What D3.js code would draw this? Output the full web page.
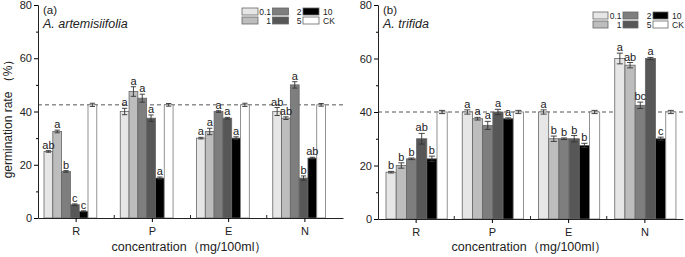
<!DOCTYPE html>
<html>
<head>
<meta charset="utf-8">
<title>germination</title>
<style>
  body { margin: 0; background: #fff; }
  svg { font-family: "Liberation Sans", Arial, sans-serif; }
</style>
</head>
<body>
<div id="chart"></div>
<script src="https://d3js.org/d3.v7.min.js"></script>
<script>
// treatments on x, concentrations as bars inside each group
var categories = ["R", "P", "E", "N"];
var concs = ["0.1", "1", "2", "5", "10", "CK"];
var colors = ["#e6e6e6", "#bdbdbd", "#7e7e7e", "#575757", "#000000", "#ffffff"];
var yTicks = [0, 20, 40, 60, 80];

// (a) A. artemisiifolia
var rateA = [
  [25, 32.5, 17.5, 5, 2.5, 42.5],
  [40, 47.5, 45, 37.5, 15, 42.5],
  [30, 32.5, 40, 37.5, 30, 42.5],
  [40, 37.5, 50, 15, 22.5, 42.5]
];
var errA = [
  [0.3, 0.5, 0.3, 0.3, 0.2, 0.6],
  [1.2, 1.8, 1.5, 1.2, 0.4, 0.5],
  [0.3, 1.2, 0.3, 0.3, 0.5, 0.6],
  [1.5, 0.5, 1.2, 0.8, 0.3, 0.5]
];
var sigA = [
  ["ab", "a", "b", "c", "c", ""],
  ["a", "a", "a", "a", "a", ""],
  ["a", "a", "a", "a", "a", ""],
  ["ab", "ab", "a", "b", "ab", ""]
];
var refA = 42.5;

// (b) A. trifida
var rateB = [
  [17.5, 20, 22.5, 30, 22.5, 40],
  [40, 37.5, 35, 40, 37.5, 40],
  [40, 30, 30, 30, 27.5, 40],
  [60, 57.5, 42.5, 60, 30, 40]
];
var errB = [
  [0.3, 1, 0.3, 2, 1, 0.6],
  [0.8, 0.5, 1.5, 1, 0.3, 0.6],
  [0.8, 1, 0.3, 1.2, 0.8, 0.6],
  [2, 1, 1.2, 0.4, 0.6, 0.6]
];
var sigB = [
  ["b", "b", "b", "ab", "b", ""],
  ["a", "a", "a", "a", "a", ""],
  ["a", "b", "b", "b", "b", ""],
  ["a", "ab", "bc", "a", "c", ""]
];
var refB = 40;

var svg = d3.select("#chart").append("svg")
  .attr("width", 685).attr("height", 257);

function panel(o) {
  var g = svg.append("g");
  var x = d3.scaleBand().domain(categories).range([o.x0, o.x1]);
  var xi = d3.scaleBand().domain(concs).range([o.off, o.off + 6 * o.bw]);
  var y = d3.scaleLinear().domain([0, 80]).range([o.y0, 5]);

  // dashed reference line (CK level)
  g.append("line")
    .attr("x1", o.x0).attr("x2", o.x1)
    .attr("y1", y(o.ref)).attr("y2", y(o.ref))
    .attr("stroke", "#555").attr("stroke-width", 1)
    .attr("stroke-dasharray", "4,3");

  var rows = [];
  categories.forEach(function(c, i) {
    concs.forEach(function(s, j) {
      rows.push({c: c, s: s, j: j, v: o.rate[i][j], e: o.err[i][j], t: o.sig[i][j]});
    });
  });

  g.selectAll(".bar").data(rows).enter().append("rect")
    .attr("x", d => x(d.c) + xi(d.s))
    .attr("y", d => y(d.v))
    .attr("width", xi.bandwidth())
    .attr("height", d => y(0) - y(d.v))
    .attr("fill", d => colors[d.j])
    .attr("stroke", d => d.j == 5 ? "#777" : "#666")
    .attr("stroke-width", 0.8);

  // error bars
  var cap = o.bw * 0.3;
  var eb = g.selectAll(".eb").data(rows).enter().append("g")
    .attr("stroke", "#333").attr("stroke-width", 0.9);
  eb.append("line")
    .attr("x1", d => x(d.c) + xi(d.s) + xi.bandwidth() / 2)
    .attr("x2", d => x(d.c) + xi(d.s) + xi.bandwidth() / 2)
    .attr("y1", d => y(d.v - d.e)).attr("y2", d => y(d.v + d.e));
  eb.append("line")
    .attr("x1", d => x(d.c) + xi(d.s) + xi.bandwidth() / 2 - cap)
    .attr("x2", d => x(d.c) + xi(d.s) + xi.bandwidth() / 2 + cap)
    .attr("y1", d => y(d.v + d.e)).attr("y2", d => y(d.v + d.e));
  eb.append("line")
    .attr("x1", d => x(d.c) + xi(d.s) + xi.bandwidth() / 2 - cap)
    .attr("x2", d => x(d.c) + xi(d.s) + xi.bandwidth() / 2 + cap)
    .attr("y1", d => y(d.v - d.e)).attr("y2", d => y(d.v - d.e));

  // significance letters
  g.selectAll(".sig").data(rows.filter(d => d.t)).enter().append("text")
    .attr("x", d => x(d.c) + xi(d.s) + xi.bandwidth() / 2)
    .attr("y", d => y(d.v + d.e) - 2)
    .attr("text-anchor", "middle")
    .attr("font-size", 11).attr("fill", "#222")
    .text(d => d.t);

  // y axis
  var ya = g.append("g").attr("transform", "translate(" + o.x0 + ",0)")
    .call(d3.axisLeft(y).tickValues(yTicks).tickSize(4).tickPadding(2).tickFormat(d3.format("d")));
  ya.selectAll("text").attr("font-size", 11).attr("fill", "#222").attr("font-family", "Liberation Sans, Arial");
  ya.select(".domain").attr("stroke", "#222");
  g.append("g").attr("transform", "translate(" + o.x0 + ",0)")
    .call(d3.axisLeft(y).tickValues([10, 30, 50, 70]).tickSize(2).tickFormat(""))
    .select(".domain").remove();

  // x axis
  var xa = g.append("g").attr("transform", "translate(0," + o.y0 + ")")
    .call(d3.axisBottom(x).tickSize(4).tickPadding(5).tickSizeOuter(0));
  xa.selectAll("text").attr("font-size", 11).attr("fill", "#222").attr("font-family", "Liberation Sans, Arial");
  xa.select(".domain").attr("stroke", "#222");
  g.append("g").selectAll("line").data(categories.slice(1)).enter().append("line")
    .attr("x1", d => x(d)).attr("x2", d => x(d))
    .attr("y1", o.y0).attr("y2", o.y0 - 3)
    .attr("stroke", "#222");

  g.append("text")
    .attr("x", (o.x0 + o.x1) / 2 - 1).attr("y", 251)
    .attr("text-anchor", "middle").attr("font-size", 12.5).attr("fill", "#222")
    .text("concentration（mg/100ml）");

  g.append("text").attr("x", o.x0 + 5).attr("y", 14)
    .attr("font-size", 11.5).attr("fill", "#222").text(o.tag);
  g.append("text").attr("x", o.x0 + 5).attr("y", 28)
    .attr("font-size", 12.5).attr("font-style", "italic").attr("fill", "#222").text(o.name);

  // legend
  var lg = g.append("g");
  concs.forEach(function(s, j) {
    var col = Math.floor(j / 2), row = j % 2;
    var lx = o.lx + col * o.lcol, ly = o.ly + row * 9;
    lg.append("rect").attr("x", lx).attr("y", ly).attr("width", o.sw).attr("height", 7)
      .attr("fill", colors[j]).attr("stroke", "#666").attr("stroke-width", 0.8);
    var t = lg.append("text").attr("y", ly + 6.5).attr("font-size", 8.5).attr("fill", "#222").text(s);
    if (col < 2) t.attr("x", lx + o.lcol - 1.5).attr("text-anchor", "end");
    else t.attr("x", lx + o.sw + 4);
  });

  if (o.ytitle) {
    g.append("text")
      .attr("transform", "translate(12,116) rotate(-90)")
      .attr("text-anchor", "middle").attr("font-size", 12).attr("fill", "#222")
      .text("germination rate （%）");
  }
}

panel({x0: 38, x1: 343, y0: 218, off: 6, bw: 8.8, rate: rateA, err: errA, sig: sigA, ref: refA,
  tag: "(a)", name: "A. artemisiifolia", lx: 242, ly: 8, lcol: 30.5, sw: 16, ytitle: true});
panel({x0: 378, x1: 683, y0: 219, off: 8, bw: 10.2, rate: rateB, err: errB, sig: sigB, ref: refB,
  tag: "(b)", name: "A. trifida", lx: 593, ly: 12, lcol: 30, sw: 15, ytitle: false});
</script>
</body>
</html>
